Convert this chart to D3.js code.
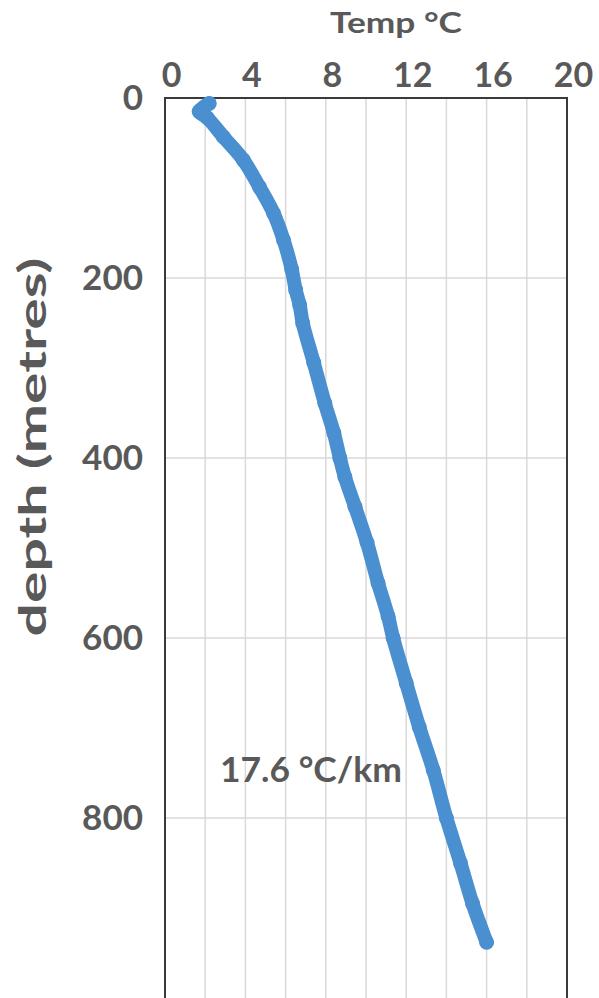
<!DOCTYPE html>
<html>
<head>
<meta charset="utf-8">
<script src="https://cdn.jsdelivr.net/npm/d3@7"></script>
<style>
  html, body { margin: 0; padding: 0; background: #fff; overflow: hidden; }
  text { font-family: Lato, "Open Sans", sans-serif; font-weight: 700; fill: #595959; }
</style>
</head>
<body>
<svg id="chart"></svg>
<script>
// temperature profile
const tempC = [2.2, 1.7, 2.1, 2.9, 3.9, 4.7, 5.4, 5.9, 6.3, 6.5, 6.7, 6.85, 7.4, 7.95, 8.4, 8.7, 8.95, 9.45, 10.05, 10.6, 11.1, 11.35, 12.0, 12.65, 13.35, 14.0, 14.7, 15.3, 16.0];
const depthM = [6, 15, 22, 43, 69, 99, 128, 158, 190, 213, 230, 250, 294, 339, 372, 400, 421, 454, 494, 539, 576, 600, 650, 699, 747, 800, 850, 895, 938];

const xTicks = [0, 4, 8, 12, 16, 20];
const xGrid = [2, 4, 6, 8, 10, 12, 14, 16, 18];
const yTicks = [0, 200, 400, 600, 800];
const yGrid = [200, 400, 600, 800];

const xTitle = 'Temp °C';
const yTitle = 'depth (metres)';
const note = '17.6 °C/km';

const width = 599, height = 1010;
const margin = { top: 98, right: 32, bottom: 12, left: 165 };
const innerW = width - margin.left - margin.right;
const innerH = height - margin.top - margin.bottom;

const svg = d3.select('#chart')
    .attr('width', width)
    .attr('height', height);

const g = svg.append('g')
    .attr('transform', `translate(${margin.left},${margin.top})`);

const x = d3.scaleLinear().domain([0, 20]).range([0, innerW]);
const y = d3.scaleLinear().domain([0, 1000]).range([0, 900]);

// grid
g.append('g')
    .selectAll('line')
    .data(xGrid)
    .join('line')
    .attr('x1', d => x(d)).attr('x2', d => x(d))
    .attr('y1', 0).attr('y2', innerH)
    .attr('stroke', '#d9d9d9')
    .attr('stroke-width', 1.5);

g.append('g')
    .selectAll('line')
    .data(yGrid)
    .join('line')
    .attr('x1', 0).attr('x2', innerW)
    .attr('y1', d => y(d)).attr('y2', d => y(d))
    .attr('stroke', '#d9d9d9')
    .attr('stroke-width', 1.5);

// plot frame (bottom runs off the page)
g.append('rect')
    .attr('x', 0).attr('y', 0)
    .attr('width', innerW).attr('height', innerH + 20)
    .attr('fill', 'none')
    .attr('stroke', '#3a3a3a')
    .attr('stroke-width', 2);

// axes, tick lines hidden
const xAxis = g.append('g')
    .call(d3.axisTop(x).tickValues(xTicks).tickSize(0).tickPadding(11));
xAxis.select('.domain').remove();
xAxis.selectAll('text')
    .attr('dx', 6)
    .style('font-size', '34px')
    .style('font-family', 'Lato, "Open Sans", sans-serif')
    .attr('fill', '#595959');

const yAxis = g.append('g')
    .call(d3.axisLeft(y).tickValues(yTicks).tickSize(0).tickPadding(22));
yAxis.select('.domain').remove();
yAxis.selectAll('text')
    .style('font-size', '35px')
    .style('font-family', 'Lato, "Open Sans", sans-serif')
    .attr('fill', '#595959');

// label sized by height, then stretched sideways to the wanted width
function label(transform, str, size, target, anchor) {
    const t = svg.append('text')
        .attr('text-anchor', anchor)
        .style('font-size', size + 'px')
        .text(str);
    const w = t.node().getComputedTextLength();
    t.attr('transform', `${transform} scale(${target / w},1)`);
    return t;
}

label('translate(396,33)', xTitle, 28, 132, 'middle');
label('translate(46,447) rotate(-90)', yTitle, 39, 379, 'middle');
label('translate(220,782)', note, 35, 182, 'start');

// profile
const pts = tempC.map((t, i) => ({ t, d: depthM[i] }));

const line = d3.line()
    .x(d => x(d.t))
    .y(d => y(d.d))
    .curve(d3.curveCatmullRom);

g.append('path')
    .datum(pts)
    .attr('d', line)
    .attr('fill', 'none')
    .attr('stroke', '#4a8fd0')
    .attr('stroke-width', 14)
    .attr('stroke-linejoin', 'round')
    .attr('stroke-linecap', 'round');

g.append('g')
    .selectAll('circle')
    .data(pts)
    .join('circle')
    .attr('cx', d => x(d.t))
    .attr('cy', d => y(d.d))
    .attr('r', 7.5)
    .attr('fill', '#4a8fd0');
</script>
</body>
</html>
